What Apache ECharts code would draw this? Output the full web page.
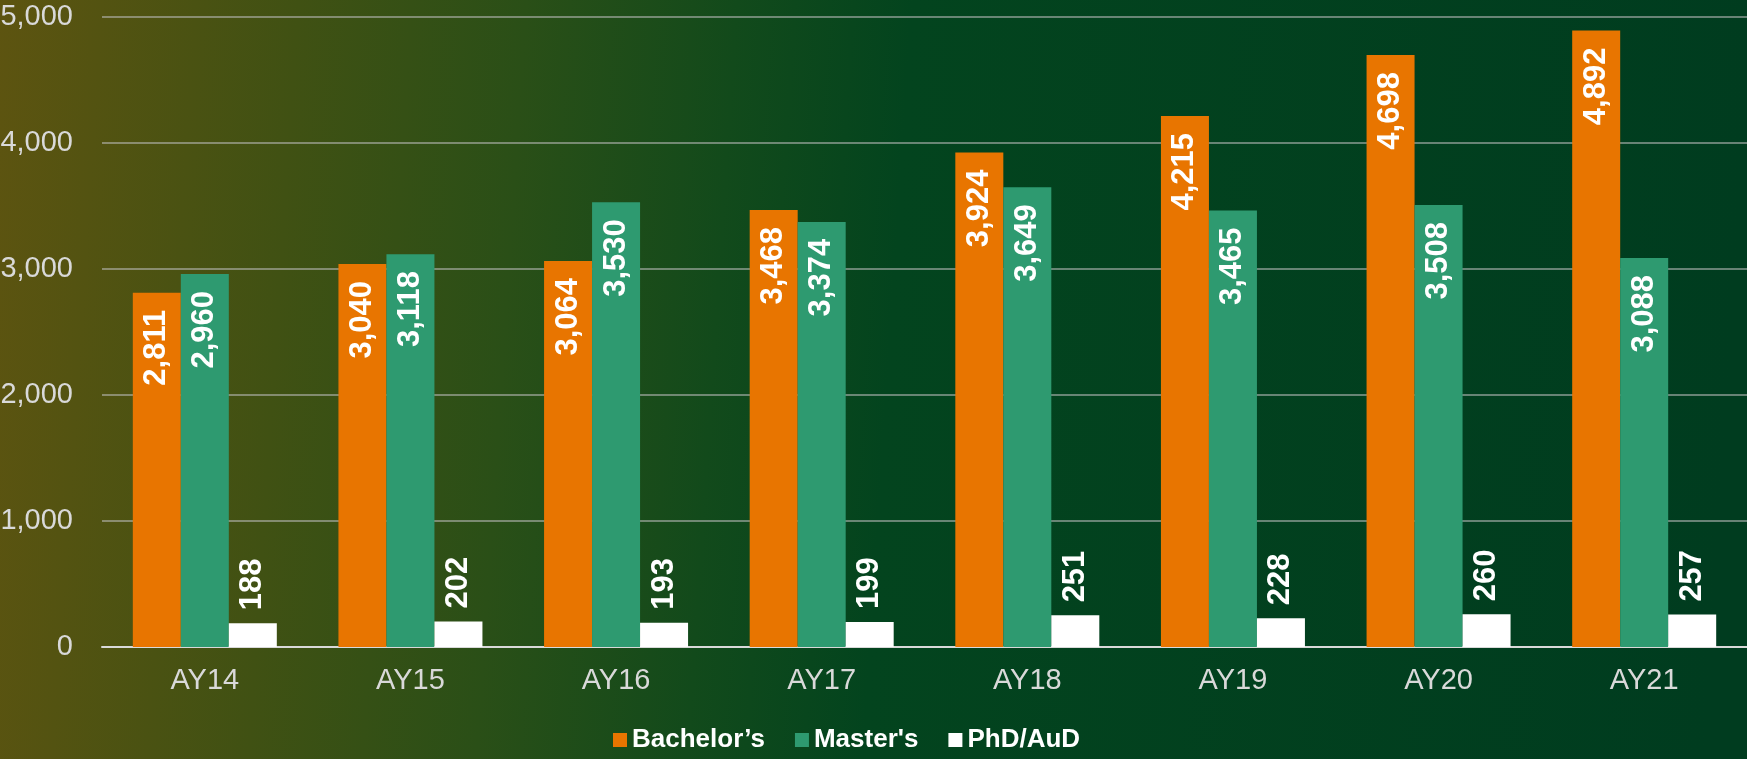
<!DOCTYPE html>
<html>
<head>
<meta charset="utf-8">
<style>
  html, body { margin: 0; padding: 0; }
  #chart { width: 1747px; height: 759px; }
</style>
<script src="https://cdn.jsdelivr.net/npm/echarts@6/dist/echarts.min.js"></script>
</head>
<body>
<div id="chart"></div>
<script>
// 学年
const years = ['AY14', 'AY15', 'AY16', 'AY17', 'AY18', 'AY19', 'AY20', 'AY21'];
// 各学位人数
const bachelors = [2811, 3040, 3064, 3468, 3924, 4215, 4698, 4892];
const masters = [2960, 3118, 3530, 3374, 3649, 3465, 3508, 3088];
const phd = [188, 202, 193, 199, 251, 228, 260, 257];
// y轴刻度
const yTicks = [0, 1000, 2000, 3000, 4000, 5000];

const fmt = v => v.toLocaleString('en-US');

// 柱内竖排标签
const insideLabel = {
    show: true,
    position: 'insideTop',
    rotate: 90,
    align: 'right',
    verticalAlign: 'middle',
    distance: 17,
    color: '#fff',
    fontWeight: 'bold',
    fontSize: 31,
    fontFamily: 'Liberation Sans, Arial',
    formatter: p => fmt(p.value)
};

const chart = echarts.init(document.getElementById('chart'));
chart.setOption({
    backgroundColor: new echarts.graphic.LinearGradient(0, 0, 1, 0.15, [
        { offset: 0, color: '#5d5410' },
        { offset: 0.17, color: '#405113' },
        { offset: 0.3, color: '#2a4f17' },
        { offset: 0.42, color: '#124a1b' },
        { offset: 0.52, color: '#03441e' },
        { offset: 1, color: '#003c1f' }
    ]),
    textStyle: { fontFamily: 'Liberation Sans, Arial' },
    grid: { left: 102, right: 0, top: 17, bottom: 112, outerBoundsMode: 'none' },
    legend: {
        left: 608,
        top: 722,
        itemWidth: 14,
        itemHeight: 14,
        itemGap: 30,
        icon: 'rect',
        textStyle: { color: '#fff', fontSize: 26, fontWeight: 'bold' },
        data: ['Bachelor’s', "Master's", 'PhD/AuD']
    },
    xAxis: {
        type: 'category',
        data: years,
        axisLine: { lineStyle: { color: '#d9d9d9', width: 2 } },
        axisTick: { show: false },
        axisLabel: { color: '#d9d9d9', fontSize: 29, margin: 19 }
    },
    yAxis: {
        type: 'value',
        min: yTicks[0],
        max: yTicks[yTicks.length - 1],
        interval: 1000,
        axisLine: { show: false },
        axisTick: { show: false },
        axisLabel: { color: '#d9d9d9', fontSize: 29, margin: 29, formatter: v => fmt(v) },
        splitLine: { lineStyle: { color: 'rgba(190,190,190,0.55)', width: 2 } }
    },
    series: [
        {
            name: 'Bachelor’s',
            type: 'bar',
            data: bachelors,
            barWidth: 48,
            barGap: '0%',
            itemStyle: { color: '#e87500' },
            label: insideLabel
        },
        {
            name: "Master's",
            type: 'bar',
            data: masters,
            barWidth: 48,
            itemStyle: { color: '#2e9a70' },
            label: insideLabel
        },
        {
            name: 'PhD/AuD',
            type: 'bar',
            data: phd,
            barWidth: 48,
            itemStyle: { color: '#ffffff' },
            label: {
                show: true,
                position: 'top',
                rotate: 90,
                align: 'left',
                verticalAlign: 'middle',
                distance: 13,
                color: '#fff',
                fontWeight: 'bold',
                fontSize: 31,
                formatter: p => fmt(p.value)
            }
        }
    ]
});
</script>
</body>
</html>
